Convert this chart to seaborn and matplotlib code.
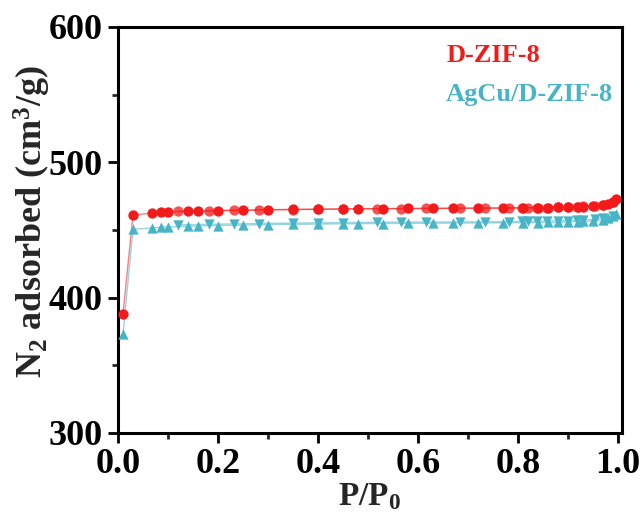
import numpy as np
import pandas as pd
import seaborn as sns
import matplotlib.pyplot as plt
from matplotlib.ticker import MultipleLocator
from matplotlib.lines import Line2D

# ---------------- data ----------------
ads_x = [0.01, 0.03, 0.067, 0.085, 0.10, 0.14, 0.16, 0.20, 0.25, 0.30, 0.35, 0.40,
         0.45, 0.48, 0.53, 0.58, 0.63, 0.67, 0.72, 0.77, 0.81, 0.84, 0.86, 0.88,
         0.90, 0.92, 0.93, 0.95, 0.97, 0.98, 0.99, 0.995]
dzif_ads = [388, 461, 462.5, 463, 463.3, 463.8, 464, 464.3, 464.6, 465, 465.2, 465.4,
            465.6, 465.7, 465.8, 465.9, 466, 466.1, 466.2, 466.3, 466.4, 466.5, 466.6, 466.7,
            466.9, 467.1, 467.3, 467.8, 468.5, 469.5, 471, 473]
agcu_ads = [373, 450.5, 451.5, 452, 452.3, 452.8, 453, 453.3, 453.6, 454, 454.2, 454.4,
            454.6, 454.7, 454.8, 454.9, 455, 455.1, 455.2, 455.3, 455.4, 455.5, 455.6, 455.7,
            455.9, 456.1, 456.3, 456.8, 457.5, 458.5, 460, 462]

des_x = [0.99, 0.97, 0.954, 0.93, 0.917, 0.90, 0.88, 0.857, 0.837, 0.819, 0.807, 0.781,
         0.733, 0.683, 0.616, 0.566, 0.517, 0.45, 0.40, 0.349, 0.281, 0.231, 0.181, 0.12]
dzif_des = [470.5, 468.8, 468, 467.5, 467.2, 467, 466.8, 466.6, 466.5, 466.4, 466.3, 466.2,
            466.1, 466, 465.9, 465.8, 465.7, 465.5, 465.3, 465.1, 464.8, 464.5, 464.2, 463.8]
agcu_des = [460.5, 459, 458, 457.5, 457.2, 457, 456.8, 456.6, 456.5, 456.4, 456.3, 456.2,
            456.1, 456, 455.9, 455.8, 455.7, 455.5, 455.3, 455.1, 454.8, 454.5, 454.2, 453.8]

labels = ["D-ZIF-8", "AgCu/D-ZIF-8"]
colors = ["#f21a1a", "#47b5c6"]

# ---------------- style ----------------
sns.set_theme(style="ticks")
plt.rcParams['font.family'] = ['Liberation Serif', 'DejaVu Serif']
plt.rcParams['font.weight'] = 'bold'
plt.rcParams['mathtext.fontset'] = 'custom'
plt.rcParams['mathtext.rm'] = 'Liberation Serif:bold'
plt.rcParams['mathtext.it'] = 'Liberation Serif:bold'
plt.rcParams['mathtext.bf'] = 'Liberation Serif:bold'

fig = plt.figure(figsize=(6.43, 5.15), dpi=100)
ax = fig.add_axes([118/643, 1-433/515, (622-118)/643, (433-27)/515])

def draw(x, y, color, marker, alpha):
    df = pd.DataFrame({"x": x, "y": y})
    sns.lineplot(data=df, x="x", y="y", ax=ax, sort=False, estimator=None,
                 color=color, lw=1.0, alpha=0.55, zorder=2)
    sns.scatterplot(data=df, x="x", y="y", ax=ax, color=color, marker=marker,
                    s=55, linewidth=0, alpha=alpha, zorder=3)

draw(ads_x, dzif_ads, colors[0], "o", 1.0)
draw(des_x, dzif_des, colors[0], "o", 0.75)
draw(ads_x, agcu_ads, colors[1], "^", 1.0)
draw(des_x, agcu_des, colors[1], "v", 1.0)

ax.set_xlim(0, 1.008)
ax.set_ylim(300, 600)
ax.xaxis.set_major_locator(MultipleLocator(0.2))
ax.xaxis.set_minor_locator(MultipleLocator(0.1))
ax.yaxis.set_major_locator(MultipleLocator(100))
ax.yaxis.set_minor_locator(MultipleLocator(50))
ax.xaxis.set_major_formatter(plt.FuncFormatter(lambda v, p: f"{v:.1f}"))

for s in ax.spines.values():
    s.set_linewidth(2.2)
    s.set_color("black")
ax.tick_params(which="major", direction="out", length=7, width=2.0, labelsize=26,
               colors="black", top=False, right=False, pad=4)
ax.tick_params(which="minor", direction="out", length=4, width=2.0,
               top=False, right=False)
for lab in ax.get_xticklabels() + ax.get_yticklabels():
    lab.set_fontweight("bold")

ax.set_xlabel(r"P/P$_\mathregular{0}$", fontsize=24, fontweight="bold", labelpad=0)
ax.set_ylabel(r"N$_\mathregular{2}$ adsorbed (cm$^\mathregular{3}$/g)", fontsize=26,
              fontweight="bold")
ax.yaxis.set_label_coords(-0.128, 0.52)

handles = [Line2D([], [], color=c, lw=0, marker=None) for c in colors]
leg = ax.legend(handles, labels, loc="upper left", frameon=False, handlelength=0,
                handletextpad=0, labelcolor=colors,
                prop={"family": "Liberation Serif", "weight": "bold", "size": 19},
                bbox_to_anchor=(0.63, 0.985), labelspacing=0.6, borderaxespad=0)

fig.savefig("out.png", dpi=100)
